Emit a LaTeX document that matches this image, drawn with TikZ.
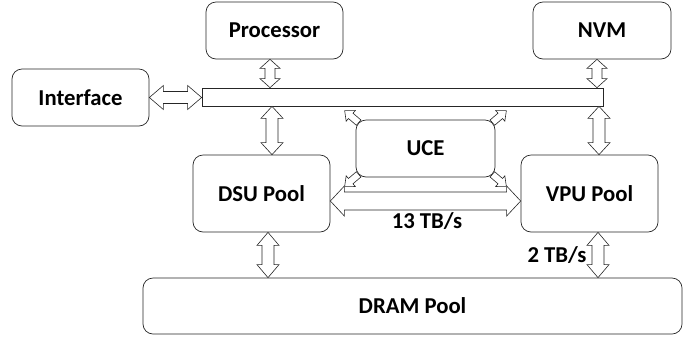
\documentclass[tikz,border=0pt]{standalone}
\usepackage{fontspec}
\setmainfont{Carlito}
\usetikzlibrary{calc}
\tikzset{
  box/.style={draw=black!85, line width=0.7bp, rounded corners=10bp, font=\fontsize{22.8}{26}\selectfont\bfseries, inner sep=0pt},
  busbar/.style={draw=black!85, line width=0.7bp},
  barrowstyle/.style={draw=black!85, line width=0.6bp, fill=white, line join=miter},
  lbl/.style={font=\fontsize{22.8}{26}\selectfont\bfseries, inner sep=0pt}
}
% double block arrow between two named points: #1 #2, head length #3, head half width #4, shaft half width #5
\newcommand\barrow[5]{%
  \coordinate (hA) at ($(#1)!#3!(#2)$);
  \coordinate (hB) at ($(#2)!#3!(#1)$);
  \draw[barrowstyle] (#1) -- ($(hA)!#4!90:(#2)$) -- ($(hA)!#5!90:(#2)$) -- ($(hB)!#5!-90:(#1)$) -- ($(hB)!#4!-90:(#1)$) -- (#2)
     -- ($(hB)!#4!90:(#1)$) -- ($(hB)!#5!90:(#1)$) -- ($(hA)!#5!-90:(#2)$) -- ($(hA)!#4!-90:(#2)$) -- cycle;}
% single block arrow from #1 (tail) to #2 (tip)
\newcommand\sarrow[5]{%
  \coordinate (hB) at ($(#2)!#3!(#1)$);
  \draw[barrowstyle] ($(#1)!#5!90:(#2)$) -- ($(hB)!#5!-90:(#1)$) -- ($(hB)!#4!-90:(#1)$) -- (#2)
     -- ($(hB)!#4!90:(#1)$) -- ($(hB)!#5!90:(#1)$) -- ($(#1)!#5!-90:(#2)$) -- cycle;}
\begin{document}
\begin{tikzpicture}[x=1bp,y=-1bp]
\useasboundingbox (0,0) rectangle (697,341);
\node[box, minimum width=137bp, minimum height=57bp] (proc) at (274.5,30.5) {Processor};
\node[box, minimum width=138bp, minimum height=57bp] (nvm) at (602,30.5) {NVM};
\node[box, minimum width=137bp, minimum height=57bp] (iface) at (80.5,97.5) {Interface};
\node[busbar, rectangle, minimum width=401bp, minimum height=18bp, inner sep=0pt] (bus) at (402.5,97) {};
\node[box, minimum width=139bp, minimum height=57bp] (uce) at (425.5,148.5) {UCE};
\node[box, minimum width=137bp, minimum height=77bp] (dsu) at (261.5,193.5) {DSU Pool};
\node[box, minimum width=137bp, minimum height=77bp] (vpu) at (589.5,193.5) {VPU Pool};
\node[box, minimum width=539bp, minimum height=56bp] (dram) at (412.5,306) {DRAM Pool};
\node[lbl] (l13) at (427,221) {13 TB/s};
\node[lbl] (l2) at (557,255) {2 TB/s};
% connector end points
\coordinate (pa) at ($(proc.south)+(-4.5,0)$);
\coordinate (pb) at (pa |- bus.north);
\coordinate (na) at ($(nvm.south)+(-5,0)$);
\coordinate (nb) at (na |- bus.north);
\coordinate (ia) at (iface.east);
\coordinate (ib) at (ia -| bus.west);
\coordinate (da) at ($(dsu.north)+(10.5,0)$);
\coordinate (db) at (da |- bus.south);
\coordinate (va) at ($(vpu.north)+(9.5,0)$);
\coordinate (vb) at (va |- bus.south);
\coordinate (dd) at ($(dsu.south)+(6.5,0)$);
\coordinate (de) at (dd |- dram.north);
\coordinate (vd) at ($(vpu.south)+(8.5,0)$);
\coordinate (ve) at (vd |- dram.north);
\coordinate (hx) at ($(dsu.east)+(0,7.5)$);
\coordinate (hy) at (hx -| vpu.west);
\barrow{pa}{pb}{9bp}{10bp}{5bp}
\barrow{na}{nb}{9bp}{10bp}{5bp}
\barrow{ia}{ib}{14bp}{12bp}{6bp}
\barrow{db}{da}{12bp}{11bp}{6bp}
\barrow{vb}{va}{12bp}{11bp}{6bp}
\barrow{dd}{de}{13bp}{11bp}{6bp}
\barrow{vd}{ve}{13bp}{11bp}{6bp}
\barrow{hx}{hy}{14bp}{15bp}{9bp}
% UCE corner arrows
\coordinate (c1) at ($(uce.north west)+(3,3)$);
\coordinate (t1) at ($(c1)+(-14,-12)$);
\coordinate (c2) at ($(uce.north east)+(-3,3)$);
\coordinate (t2) at ($(c2)+(14,-12)$);
\coordinate (c3) at ($(uce.south west)+(3,-3)$);
\coordinate (t3) at ($(c3)+(-14,12)$);
\coordinate (c4) at ($(uce.south east)+(-3,-3)$);
\coordinate (t4) at ($(c4)+(14,12)$);
\sarrow{c1}{t1}{8bp}{7bp}{3.5bp}
\sarrow{c2}{t2}{8bp}{7bp}{3.5bp}
\sarrow{c3}{t3}{8bp}{7bp}{3.5bp}
\sarrow{c4}{t4}{8bp}{7bp}{3.5bp}
\end{tikzpicture}
\end{document}
